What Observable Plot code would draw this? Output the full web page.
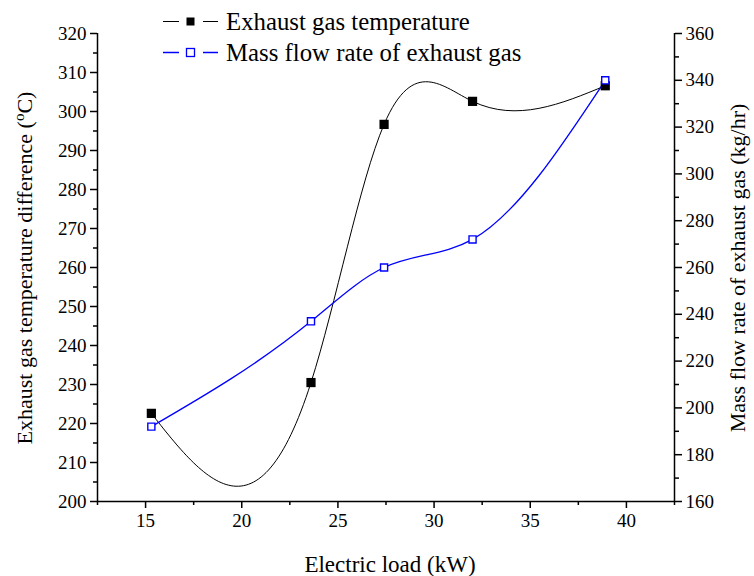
<!DOCTYPE html>
<html>
<head>
<meta charset="utf-8">
<script src="https://cdn.jsdelivr.net/npm/d3@7"></script>
<script src="https://cdn.jsdelivr.net/npm/@observablehq/plot@0.6"></script>
<style>
  html, body { margin: 0; padding: 0; background: white; }
  #chart { width: 754px; height: 576px; }
  #chart svg text { font-family: "Liberation Serif", "Times New Roman", serif !important; }
</style>
</head>
<body>
<div id="chart"></div>
<script>
// ---- data ----
const electricLoad = [15.3, 23.6, 27.4, 32.0, 38.9];            // kW
const exhaustTemp  = [222.6, 230.5, 296.7, 302.6, 306.6];        // °C (left axis)
const massFlow     = [192, 237, 260, 272, 340];                  // kg/hr (right axis)

const leftTicks  = [200, 210, 220, 230, 240, 250, 260, 270, 280, 290, 300, 310, 320];
const leftMinor  = [205, 215, 225, 235, 245, 255, 265, 275, 285, 295, 305, 315];
const rightTicks = [160, 180, 200, 220, 240, 260, 280, 300, 320, 340, 360];
const rightMinor = [170, 190, 210, 230, 250, 270, 290, 310, 330, 350];
const xTicks     = [15, 20, 25, 30, 35, 40];
const xMinor     = [12.5, 17.5, 22.5, 27.5, 32.5, 37.5, 42.5];

const seriesNames = ["Exhaust gas temperature", "Mass flow rate of exhaust gas"];

// right-axis values mapped onto the left scale domain
const toLeft = v => 200 + (v - 160) * (120 / 200);
const fromLeft = t => Math.round(160 + (t - 200) * (200 / 120));

const tempData = electricLoad.map((x, i) => ({x, y: exhaustTemp[i]}));
const flowData = electricLoad.map((x, i) => ({x, y: toLeft(massFlow[i])}));

// natural cubic spline y(x) (not parametric), as a d3 curve factory
function curveSplineX(context) {
  let xs, ys;
  return {
    areaStart() {}, areaEnd() {},
    lineStart() { xs = []; ys = []; },
    point(x, y) { xs.push(+x); ys.push(+y); },
    lineEnd() {
      const n = xs.length;
      if (!n) return;
      context.moveTo(xs[0], ys[0]);
      if (n < 3) { for (let i = 1; i < n; i++) context.lineTo(xs[i], ys[i]); return; }
      const h = [];
      for (let i = 0; i < n - 1; i++) h.push(xs[i + 1] - xs[i]);
      const A = Array.from({length: n}, () => new Array(n).fill(0));
      const b = new Array(n).fill(0);
      A[0][0] = 1;
      A[n - 1][n - 1] = 1;
      for (let i = 1; i < n - 1; i++) {
        A[i][i - 1] = h[i - 1];
        A[i][i] = 2 * (h[i - 1] + h[i]);
        A[i][i + 1] = h[i];
        b[i] = 6 * ((ys[i + 1] - ys[i]) / h[i] - (ys[i] - ys[i - 1]) / h[i - 1]);
      }
      for (let c = 0; c < n; c++) {
        let p = c;
        for (let r = c + 1; r < n; r++) if (Math.abs(A[r][c]) > Math.abs(A[p][c])) p = r;
        [A[c], A[p]] = [A[p], A[c]]; [b[c], b[p]] = [b[p], b[c]];
        for (let r = c + 1; r < n; r++) {
          const f = A[r][c] / A[c][c];
          for (let k = c; k < n; k++) A[r][k] -= f * A[c][k];
          b[r] -= f * b[c];
        }
      }
      const M = new Array(n).fill(0);
      for (let r = n - 1; r >= 0; r--) {
        let s = b[r];
        for (let k = r + 1; k < n; k++) s -= A[r][k] * M[k];
        M[r] = s / A[r][r];
      }
      const d = [];
      for (let i = 0; i < n - 1; i++) d.push((ys[i + 1] - ys[i]) / h[i] - h[i] * (2 * M[i] + M[i + 1]) / 6);
      d.push((ys[n - 1] - ys[n - 2]) / h[n - 2] + h[n - 2] * (M[n - 2] + 2 * M[n - 1]) / 6);
      for (let i = 0; i < n - 1; i++) {
        const t = h[i] / 3;
        context.bezierCurveTo(xs[i] + t, ys[i] + d[i] * t, xs[i + 1] - t, ys[i + 1] - d[i + 1] * t, xs[i + 1], ys[i + 1]);
      }
    }
  };
}

const FONT = "Liberation Serif";

const plot = Plot.plot({
  width: 754,
  height: 576,
  marginLeft: 97,
  marginRight: 80,
  marginTop: 33,
  marginBottom: 75,
  x: {domain: [12.5, 42.5]},
  y: {domain: [200, 320]},
  style: {fontFamily: FONT, fontSize: "19px", color: "black", background: "white"},
  marks: [
    // axis lines
    Plot.ruleX([12.5], {stroke: "black", strokeWidth: 1.5}),
    Plot.ruleX([42.5], {stroke: "black", strokeWidth: 1.5}),
    Plot.ruleY([200], {stroke: "black", strokeWidth: 1.5}),
    // x axis
    Plot.axisX({ticks: xTicks, tickSize: 7, tickPadding: 5, label: null, strokeWidth: 1.5}),
    Plot.axisX({ticks: xMinor, tickSize: 4, tickFormat: () => "", label: null, strokeWidth: 1.5}),
    // left axis
    Plot.axisY({ticks: leftTicks, tickSize: 7, tickPadding: 4, label: null, strokeWidth: 1.5}),
    Plot.axisY({ticks: leftMinor, tickSize: 4, tickFormat: () => "", label: null, strokeWidth: 1.5}),
    // right axis
    Plot.axisY({anchor: "right", ticks: rightTicks.map(toLeft), tickFormat: fromLeft,
                tickSize: 7, tickPadding: 4, label: null, strokeWidth: 1.5}),
    Plot.axisY({anchor: "right", ticks: rightMinor.map(toLeft), tickFormat: () => "",
                tickSize: 4, label: null, strokeWidth: 1.5}),
    // series
    Plot.line(tempData, {x: "x", y: "y", curve: curveSplineX, stroke: "black", strokeWidth: 1}),
    Plot.line(flowData, {x: "x", y: "y", curve: curveSplineX, stroke: "#0000ff", strokeWidth: 1.3}),
    Plot.dot(tempData, {x: "x", y: "y", symbol: "square", r: 5.2, fill: "black", stroke: "none"}),
    Plot.dot(flowData, {x: "x", y: "y", symbol: "square", r: 4, fill: "white", stroke: "#0000ff", strokeWidth: 1.4})
  ]
});

document.getElementById("chart").appendChild(plot);

// ---- titles and legend ----
const svg = d3.select(plot);

// x label
svg.append("text")
  .attr("x", 390).attr("y", 572)
  .attr("text-anchor", "middle")
  .attr("font-family", FONT).attr("font-size", 23).attr("fill", "black")
  .text("Electric load (kW)");

// left label with superscript o
const ll = svg.append("text")
  .attr("transform", "translate(32,268) rotate(-90)")
  .attr("text-anchor", "middle")
  .attr("font-family", FONT).attr("font-size", 22).attr("fill", "black");
ll.append("tspan").text("Exhaust gas temperature difference (");
ll.append("tspan").attr("dy", -8).attr("font-size", 15).text("o");
ll.append("tspan").attr("dy", 8).text("C)");

// right label
svg.append("text")
  .attr("transform", "translate(745,268) rotate(-90)")
  .attr("text-anchor", "middle")
  .attr("font-family", FONT).attr("font-size", 22).attr("fill", "black")
  .text("Mass flow rate of exhaust gas (kg/hr)");

// legend
const legendRows = [
  {name: seriesNames[0], color: "black", fill: "black", y: 21.5},
  {name: seriesNames[1], color: "#0000ff", fill: "white", y: 52.5}
];
legendRows.forEach(r => {
  const g = svg.append("g");
  g.append("line").attr("x1", 163).attr("x2", 179).attr("y1", r.y).attr("y2", r.y)
    .attr("stroke", r.color).attr("stroke-width", r.color === "black" ? 1 : 1.5);
  g.append("line").attr("x1", 203).attr("x2", 218).attr("y1", r.y).attr("y2", r.y)
    .attr("stroke", r.color).attr("stroke-width", r.color === "black" ? 1 : 1.5);
  g.append("rect").attr("x", 186.5).attr("y", r.y - 4).attr("width", 8).attr("height", 8)
    .attr("fill", r.fill).attr("stroke", r.color === "black" ? "none" : r.color).attr("stroke-width", 1.3);
  g.append("text").attr("x", 226).attr("y", r.y + 8)
    .attr("text-anchor", "start")
    .attr("font-family", FONT).attr("font-size", 24.8).attr("fill", "black")
    .text(r.name);
});
</script>
</body>
</html>
